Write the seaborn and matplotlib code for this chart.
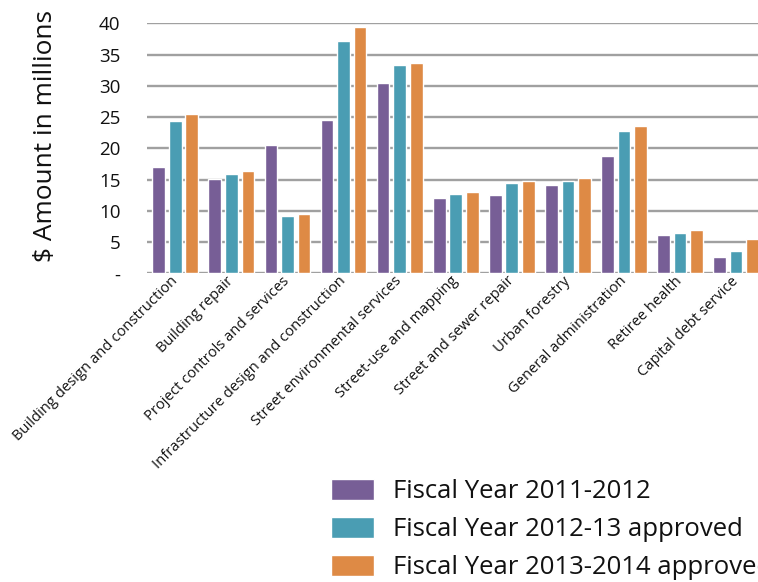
import numpy as np
import pandas as pd
import matplotlib
matplotlib.use("Agg")
import matplotlib.pyplot as plt
import seaborn as sns

# Data ($ millions)
categories = [
    "Building design and construction",
    "Building repair",
    "Project controls and services",
    "Infrastructure design and construction",
    "Street environmental services",
    "Street-use and mapping",
    "Street and sewer repair",
    "Urban forestry",
    "General administration",
    "Retiree health",
    "Capital debt service",
]
fy_2011_12 = [17.0, 15.1, 20.5, 24.5, 30.4, 12.1, 12.5, 14.1, 18.7, 6.1, 2.6]
fy_2012_13 = [24.3, 15.9, 9.1, 37.1, 33.4, 12.7, 14.5, 14.7, 22.8, 6.4, 3.5]
fy_2013_14 = [25.5, 16.4, 9.5, 39.4, 33.7, 13.0, 14.8, 15.3, 23.6, 7.0, 5.5]
series_names = [
    "Fiscal Year 2011-2012",
    "Fiscal Year 2012-13 approved",
    "Fiscal Year 2013-2014 approved",
]
y_ticks = [0, 5, 10, 15, 20, 25, 30, 35, 40]
y_tick_labels = ["-", "5", "10", "15", "20", "25", "30", "35", "40"]

colors = ["#775e96", "#4a9db3", "#de8a45"]

df = pd.DataFrame({
    "category": categories * 3,
    "series": np.repeat(series_names, len(categories)),
    "amount": fy_2011_12 + fy_2012_13 + fy_2013_14,
})

sns.set_style("white")
plt.rcParams["font.family"] = ["Open Sans", "DejaVu Sans"]
plt.rcParams["text.color"] = "#111111"
plt.rcParams["xtick.color"] = "#111111"
plt.rcParams["ytick.color"] = "#111111"
plt.rcParams["axes.labelcolor"] = "#111111"

fig = plt.figure(figsize=(7.58, 5.82), dpi=100)
W, H = 758, 582
ax = fig.add_axes([146.7 / W, (H - 273.3) / H, (W - 146.7) / W, 250 / H])

sns.barplot(data=df, x="category", y="amount", hue="series",
            palette=colors, saturation=1, width=0.885, gap=0.23,
            ax=ax, zorder=3)

ax.set_xlim(-0.51, 10.39)
ax.set_ylim(0, 40)
ax.set_yticks(y_ticks)
ax.set_yticklabels(y_tick_labels, fontsize=13.5)
ax.yaxis.grid(True, color="#a0a0a0", linewidth=1.7, zorder=0)
ax.set_axisbelow(True)
for s in ax.spines.values():
    s.set_visible(False)
ax.tick_params(axis="y", length=0, pad=19)
ax.tick_params(axis="x", length=0, pad=4)

ax.set_xticks(range(len(categories)))
ax.set_xticklabels(categories, rotation=45, ha="right", va="center",
                   rotation_mode="anchor", fontsize=10.6)

ax.set_xlabel("")
ax.set_ylabel(r"\$ Amount in millions", fontsize=18.9)
ax.yaxis.set_label_coords(-0.145, 0.551)

# legend runs past the right edge, as in the original
sns.move_legend(ax, "upper left", bbox_to_anchor=(331 / W, 1 - 479 / H),
                bbox_transform=fig.transFigure, frameon=False, title=None,
                fontsize=18.5, handlelength=1.67, handleheight=0.86,
                handletextpad=0.73, labelspacing=0.5, borderpad=0,
                borderaxespad=0)

fig.savefig("out.png", dpi=100, facecolor="white")
